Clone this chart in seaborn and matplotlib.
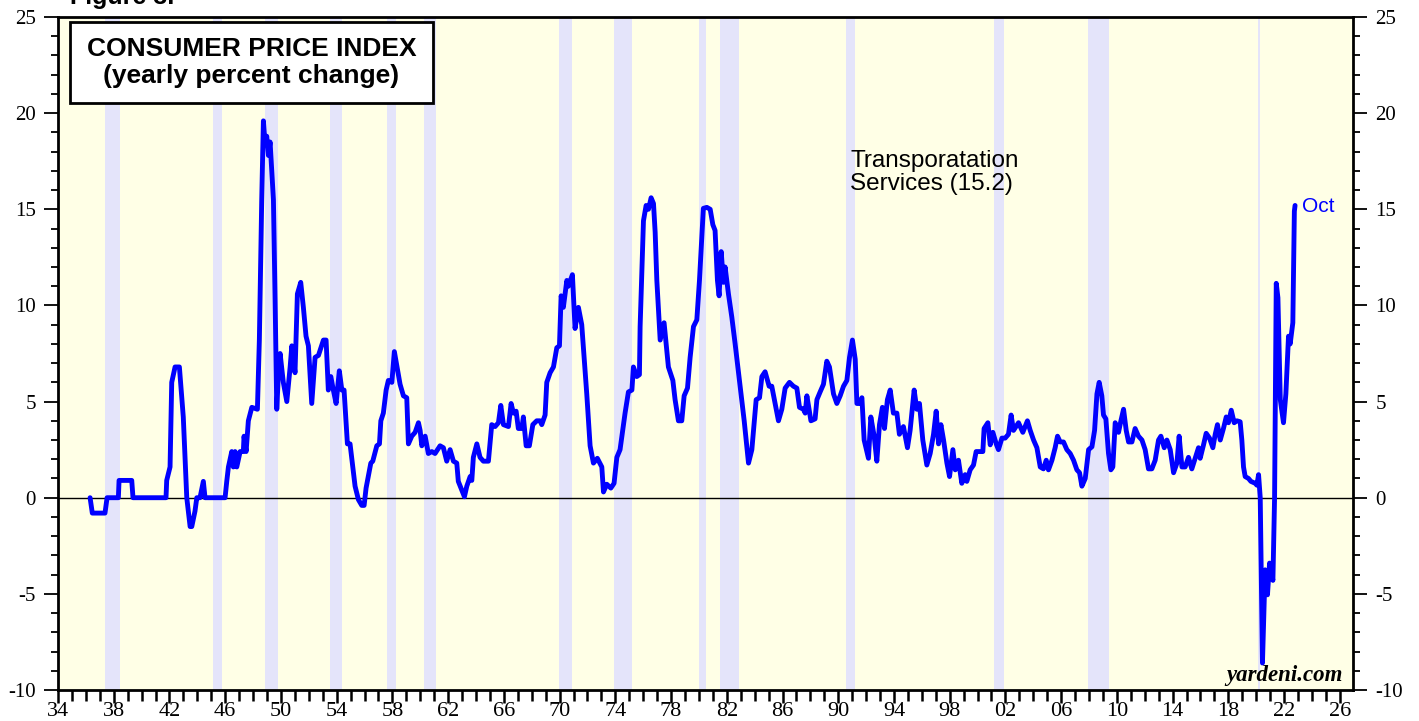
import numpy as np
import pandas as pd
import matplotlib
matplotlib.use("Agg")
import matplotlib.pyplot as plt
from matplotlib.patches import Rectangle
from matplotlib.ticker import MultipleLocator, FixedLocator
import seaborn as sns

sns.set_theme(style="white")
plt.rcParams['font.family'] = ['Liberation Sans', 'DejaVu Sans']
plt.rcParams['text.color'] = 'black'
plt.rcParams['xtick.color'] = 'black'
plt.rcParams['ytick.color'] = 'black'
plt.rcParams['axes.unicode_minus'] = False

# CPI transportation services, yearly % change
dates = [
    1936.30, 1936.46, 1937.37, 1937.52, 1938.33, 1938.38, 1939.29, 1939.38, 1941.75, 1941.80,
    1942.04, 1942.16, 1942.40, 1942.71, 1942.99, 1943.24, 1943.48, 1943.60, 1943.83, 1943.96,
    1944.19, 1944.43, 1944.55, 1945.99, 1946.11, 1946.23, 1946.47, 1946.58, 1946.71, 1946.83,
    1947.07, 1947.30, 1947.35, 1947.50, 1947.66, 1947.91, 1948.31, 1948.45, 1948.62, 1948.74,
    1948.86, 1948.98, 1949.10, 1949.22, 1949.46, 1949.58, 1949.70, 1949.81, 1949.94, 1950.17,
    1950.42, 1950.66, 1950.78, 1951.01, 1951.18, 1951.42, 1951.61, 1951.80, 1951.97, 1952.21,
    1952.45, 1952.69, 1953.05, 1953.24, 1953.40, 1953.58, 1953.76, 1953.96, 1954.19, 1954.37,
    1954.53, 1954.77, 1954.96, 1955.32, 1955.56, 1955.80, 1955.97, 1956.11, 1956.45, 1956.59,
    1956.88, 1957.07, 1957.17, 1957.35, 1957.55, 1957.71, 1957.96, 1958.14, 1958.31, 1958.55,
    1958.79, 1959.03, 1959.15, 1959.39, 1959.63, 1959.87, 1959.99, 1960.11, 1960.35, 1960.58,
    1960.83, 1961.06, 1961.42, 1961.66, 1961.90, 1962.14, 1962.38, 1962.62, 1962.73, 1962.98,
    1963.17, 1963.34, 1963.58, 1963.70, 1963.81, 1964.06, 1964.29, 1964.53, 1964.89, 1965.13,
    1965.37, 1965.61, 1965.78, 1965.97, 1966.33, 1966.52, 1966.69, 1966.88, 1967.04, 1967.29,
    1967.40, 1967.60, 1967.83, 1968.08, 1968.36, 1968.60, 1968.72, 1968.96, 1969.08, 1969.32,
    1969.56, 1969.80, 1969.99, 1970.11, 1970.27, 1970.52, 1970.63, 1970.92, 1971.11, 1971.35,
    1971.59, 1971.95, 1972.19, 1972.43, 1972.71, 1973.03, 1973.15, 1973.39, 1973.68, 1973.91,
    1974.11, 1974.34, 1974.70, 1974.94, 1975.19, 1975.30, 1975.54, 1975.73, 1975.78, 1975.90,
    1976.02, 1976.21, 1976.38, 1976.57, 1976.74, 1976.86, 1976.98, 1977.22, 1977.50, 1977.81,
    1978.13, 1978.29, 1978.53, 1978.77, 1978.94, 1979.18, 1979.37, 1979.61, 1979.85, 1980.04,
    1980.32, 1980.57, 1980.81, 1981.00, 1981.16, 1981.33, 1981.45, 1981.60, 1981.76, 1981.88,
    1982.12, 1982.36, 1982.60, 1982.96, 1983.25, 1983.56, 1983.80, 1984.11, 1984.35, 1984.52,
    1984.75, 1985.04, 1985.23, 1985.47, 1985.71, 1985.95, 1986.19, 1986.50, 1986.78, 1987.03,
    1987.22, 1987.50, 1987.63, 1987.75, 1988.04, 1988.34, 1988.47, 1988.70, 1988.94, 1989.18,
    1989.37, 1989.66, 1989.90, 1990.14, 1990.38, 1990.62, 1990.81, 1991.02, 1991.22, 1991.34,
    1991.52, 1991.70, 1991.86, 1992.17, 1992.34, 1992.58, 1992.77, 1992.96, 1993.17, 1993.32,
    1993.53, 1993.73, 1993.96, 1994.21, 1994.39, 1994.68, 1994.97, 1995.16, 1995.45, 1995.64,
    1995.83, 1996.07, 1996.36, 1996.60, 1996.84, 1997.03, 1997.20, 1997.37, 1997.56, 1997.80,
    1997.99, 1998.23, 1998.40, 1998.63, 1998.87, 1999.11, 1999.23, 1999.47, 1999.71, 1999.90,
    2000.19, 2000.38, 2000.47, 2000.74, 2000.91, 2001.10, 2001.34, 2001.50, 2001.75, 2001.98,
    2002.22, 2002.41, 2002.58, 2002.94, 2003.25, 2003.58, 2003.78, 2004.02, 2004.26, 2004.50,
    2004.73, 2004.93, 2005.09, 2005.34, 2005.57, 2005.74, 2005.93, 2006.17, 2006.41, 2006.65,
    2006.89, 2007.13, 2007.32, 2007.49, 2007.73, 2007.97, 2008.21, 2008.40, 2008.57, 2008.73,
    2008.92, 2009.04, 2009.21, 2009.40, 2009.57, 2009.71, 2009.88, 2010.12, 2010.29, 2010.48,
    2010.67, 2010.84, 2011.08, 2011.31, 2011.55, 2011.80, 2012.03, 2012.27, 2012.51, 2012.75,
    2012.99, 2013.16, 2013.40, 2013.59, 2013.83, 2014.07, 2014.31, 2014.47, 2014.67, 2014.90,
    2015.14, 2015.38, 2015.62, 2015.86, 2015.98, 2016.22, 2016.41, 2016.65, 2016.89, 2017.06,
    2017.22, 2017.42, 2017.65, 2017.85, 2018.01, 2018.21, 2018.42, 2018.62, 2018.85, 2018.97,
    2019.09, 2019.21, 2019.45, 2019.62, 2019.93, 2020.05, 2020.17, 2020.29, 2020.45, 2020.64,
    2020.81, 2020.96, 2021.20, 2021.32, 2021.44, 2021.56, 2021.73, 2021.96, 2022.13, 2022.32,
    2022.44, 2022.63, 2022.74, 2022.79,
]
cpi_yoy = [
    0.0, -0.8, -0.8, 0.0, 0.0, 0.9, 0.9, 0.0, 0.0, 0.9,
    1.6, 6.0, 6.8, 6.8, 4.2, 0.0, -1.5, -1.5, -0.7, 0.0,
    0.0, 0.85, 0.0, 0.0, 0.85, 1.6, 2.4, 1.6, 2.4, 1.6,
    2.4, 2.4, 3.2, 2.4, 4.0, 4.7, 4.6, 8.2, 15.5, 19.6,
    18.4, 18.8, 17.8, 18.5, 15.5, 10.3, 4.6, 6.3, 7.5, 6.0,
    5.0, 6.8, 7.9, 6.5, 10.6, 11.2, 9.9, 8.4, 7.9, 4.9,
    7.3, 7.4, 8.2, 8.2, 5.6, 6.3, 5.6, 4.9, 6.6, 5.6,
    5.6, 2.8, 2.8, 0.6, -0.1, -0.4, -0.4, 0.5, 1.8, 1.9,
    2.7, 2.8, 4.0, 4.4, 5.6, 6.1, 6.0, 7.6, 6.9, 5.9,
    5.3, 5.2, 2.8, 3.2, 3.4, 3.9, 3.5, 2.7, 3.2, 2.3,
    2.4, 2.3, 2.7, 2.6, 1.9, 2.5, 1.9, 1.8, 0.85, 0.4,
    0.05, 0.6, 1.1, 0.9, 2.1, 2.8, 2.1, 1.9, 1.9, 3.8,
    3.7, 3.9, 4.8, 3.8, 3.7, 4.9, 4.4, 4.5, 3.6, 3.6,
    4.2, 2.7, 2.7, 3.8, 4.0, 4.0, 3.8, 4.3, 6.0, 6.5,
    6.8, 7.8, 7.9, 10.5, 9.9, 11.3, 11.0, 11.6, 8.8, 9.9,
    9.0, 5.4, 2.7, 1.8, 2.05, 1.6, 0.3, 0.7, 0.5, 0.75,
    2.1, 2.5, 4.4, 5.5, 5.6, 6.8, 6.3, 6.4, 8.9, 11.7,
    14.4, 15.2, 15.0, 15.6, 15.3, 13.8, 11.3, 8.2, 9.1, 6.8,
    6.1, 5.1, 4.0, 4.0, 5.3, 5.7, 7.3, 8.9, 9.25, 11.3,
    15.05, 15.1, 15.0, 14.2, 13.9, 11.3, 10.5, 12.8, 11.2, 12.0,
    10.6, 9.4, 8.0, 5.8, 4.0, 1.8, 2.5, 5.1, 5.2, 6.3,
    6.55, 5.8, 5.8, 4.9, 4.0, 4.6, 5.7, 6.0, 5.8, 5.7,
    4.7, 4.6, 4.4, 5.3, 4.0, 4.1, 5.1, 5.5, 5.9, 7.1,
    6.8, 5.4, 4.9, 5.3, 5.8, 6.1, 7.3, 8.2, 7.2, 4.9,
    4.9, 5.2, 3.0, 2.05, 4.2, 3.2, 1.9, 3.8, 4.7, 3.6,
    5.1, 5.6, 4.4, 4.4, 3.3, 3.7, 2.6, 3.5, 5.6, 4.6,
    4.9, 3.0, 1.7, 2.3, 3.3, 4.5, 2.8, 3.8, 3.0, 1.8,
    1.1, 2.5, 1.45, 1.95, 0.75, 1.2, 0.85, 1.45, 1.7, 2.4,
    2.4, 2.4, 3.6, 3.9, 2.75, 3.4, 2.8, 2.5, 3.1, 3.1,
    3.3, 4.3, 3.5, 3.9, 3.4, 4.0, 3.5, 3.0, 2.6, 1.6,
    1.5, 1.95, 1.45, 1.95, 2.6, 3.2, 2.9, 2.9, 2.5, 2.3,
    1.95, 1.45, 1.3, 0.6, 1.0, 2.5, 2.65, 3.5, 5.4, 6.0,
    5.3, 4.3, 4.1, 2.3, 1.45, 1.6, 3.9, 3.4, 4.0, 4.6,
    3.5, 2.9, 2.9, 3.6, 3.2, 3.0, 2.5, 1.5, 1.5, 1.95,
    3.0, 3.2, 2.6, 3.0, 2.5, 1.3, 1.8, 3.2, 1.6, 1.6,
    2.1, 1.5, 2.05, 2.6, 2.05, 2.75, 3.35, 3.1, 2.6, 3.3,
    3.8, 3.0, 3.6, 4.2, 3.9, 4.55, 3.9, 4.0, 3.95, 3.0,
    1.6, 1.1, 1.0, 0.85, 0.75, 0.65, 1.2, 0.0, -8.6, -3.75,
    -5.05, -3.4, -4.3, 0.0, 11.15, 10.4, 5.1, 3.9, 5.4, 8.4,
    8.0, 9.1, 14.9, 15.2,
]

# NBER recessions (start, end)
rec_start = [1937.37, 1945.12, 1948.87, 1953.54, 1957.62, 1960.29, 1969.96,
             1973.87, 1980.04, 1981.54, 1990.54, 2001.21, 2007.96, 2020.12]
rec_end = [1938.46, 1945.79, 1949.79, 1954.37, 1958.29, 1961.12, 1970.87,
           1975.21, 1980.54, 1982.87, 1991.21, 2001.87, 2009.46, 2020.29]

year_ticks = list(range(1934, 2027, 4))
year_labels = ['%02d' % (y % 100) for y in year_ticks]

df = pd.DataFrame({'date': dates, 'yoy': cpi_yoy})

fig = plt.figure(figsize=(14.19, 7.21), dpi=100)
ax = fig.add_axes([0.0409, 0.0430, 0.9126, 0.9334])
ax.set_facecolor('#FFFFE6')

for s, e in zip(rec_start, rec_end):
    ax.axvspan(s, e, color='#E4E4FA', lw=0, zorder=0)

ax.axhline(0, color='black', lw=1, zorder=1)

sns.lineplot(data=df, x='date', y='yoy', ax=ax, color='#0000FF', lw=3.5,
             estimator=None, sort=False, zorder=3)

ax.set_xlim(1934, 2026.95)
ax.set_ylim(-10, 25)
ax.set_xlabel('')
ax.set_ylabel('')

# axes frame
for sp in ax.spines.values():
    sp.set_visible(True)
    sp.set_color('black')
    sp.set_linewidth(2)

serif = ['Liberation Serif', 'DejaVu Serif']

ax.xaxis.set_major_locator(FixedLocator(year_ticks))
ax.xaxis.set_minor_locator(MultipleLocator(1))
ax.set_xticklabels(year_labels, family=serif, fontsize=16)
ax.tick_params(axis='x', which='major', direction='out', length=9, width=1.8, pad=0, bottom=True)
ax.tick_params(axis='x', which='minor', direction='out', length=8, width=1.8, bottom=True)

ax.yaxis.set_major_locator(MultipleLocator(5))
ax.yaxis.set_minor_locator(MultipleLocator(1))
ax.tick_params(axis='y', which='major', direction='out', length=10, width=1.3,
               left=True, right=True, labelleft=True, labelright=True, pad=6)
ax.tick_params(axis='y', which='minor', direction='out', length=5, width=1.3,
               left=True, right=True)
for lab in ax.get_yticklabels():
    lab.set_family(serif)
    lab.set_fontsize(15)

# title box
ax.add_patch(Rectangle((0.0093, 0.8722), 0.2803, 0.1204, transform=ax.transAxes,
                       facecolor='white', edgecolor='black', lw=2, zorder=5))
ax.text(0.1494, 0.9324, 'CONSUMER PRICE INDEX\n(yearly percent change)',
        transform=ax.transAxes, ha='center', va='center', fontsize=19,
        fontweight='bold', linespacing=1.15, zorder=6)

ax.text(1990.85, 18.1, 'Transporatation\nServices (15.2)', ha='left', va='top',
        fontsize=17.5, color='black', linespacing=1.1, zorder=6)
ax.text(2023.3, 15.15, 'Oct', ha='left', va='center', fontsize=15, color='#0000FF', zorder=6)
ax.text(0.992, 0.022, 'yardeni.com', transform=ax.transAxes, ha='right', va='center',
        family=serif, fontsize=16.5, fontweight='bold', style='italic', zorder=6)

fig.text(0.049, 0.994, 'Figure 3.', ha='left', va='baseline', fontsize=18, fontweight='bold')

fig.savefig('out.png', dpi=100)
